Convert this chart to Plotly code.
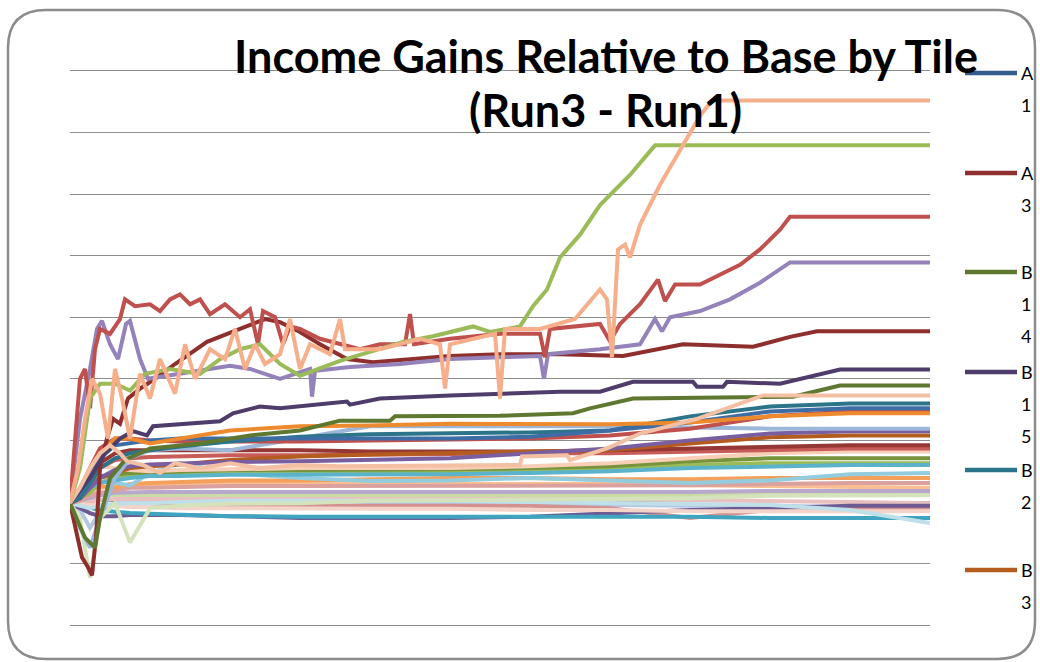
import plotly.graph_objects as go

# ---------------------------------------------------------------------------
# Data (x = simulation step, y = income gain, Run3 - Run1)
# ---------------------------------------------------------------------------

# prominent tiles, each with its own breakpoints
peach_x = [0, 8, 15, 22, 30, 38, 45, 52, 60, 70, 80, 90, 105, 115, 125, 140, 155, 165, 175, 185,
           195, 210, 220, 230, 240, 260, 270, 275, 310, 350, 370, 375, 380, 425, 430, 435, 470, 505, 530, 537,
           542, 548, 555, 560, 570, 590, 610, 630, 642, 860]
peach_y = [-0.02, 0.55, 1.35, 2.00, 1.76, 1.03, 2.16, 1.68, 1.03, 2.08, 1.68, 2.32, 1.76, 2.56, 2.00, 2.48, 2.32, 2.81, 2.16, 2.56,
           2.24, 2.40, 2.97, 2.16, 2.56, 2.40, 2.97, 2.48, 2.48, 2.65, 2.56, 1.84, 2.56, 2.73, 1.68, 2.81, 2.81, 2.97, 3.45, 3.29,
           2.35, 4.10, 4.18, 3.97, 4.50, 5.15, 5.71, 6.27, 6.52, 6.52]

green_x = [0, 10, 20, 30, 45, 60, 75, 100, 130, 150, 170, 190, 210, 230, 270, 333, 363, 403, 420, 450,
           463, 477, 490, 510, 530, 560, 585, 860]
green_y = [-0.02, 0.55, 1.68, 1.92, 1.92, 1.81, 2.08, 2.16, 2.08, 2.32, 2.48, 2.56, 2.24, 2.05, 2.29, 2.60, 2.69, 2.85, 2.76, 2.85,
           3.18, 3.45, 3.97, 4.34, 4.82, 5.31, 5.79, 5.79]

red_x = [0, 5, 10, 15, 20, 25, 30, 40, 50, 55, 65, 80, 90, 100, 110, 120, 130, 140, 155, 170,
         180, 188, 193, 205, 213, 220, 230, 250, 270, 290, 310, 335, 340, 344, 380, 430, 470, 475, 480, 530,
         540, 550, 570, 588, 595, 605, 630, 650, 670, 690, 710, 720, 860]
red_y = [-0.02, 1.03, 2.00, 2.16, 1.52, 2.48, 2.81, 2.73, 2.97, 3.29, 3.18, 3.21, 3.10, 3.29, 3.37, 3.21, 3.29, 3.05, 3.21, 3.00,
         3.13, 2.56, 3.10, 3.00, 2.56, 2.85, 2.81, 2.65, 2.56, 2.48, 2.56, 2.56, 3.05, 2.56, 2.65, 2.73, 2.73, 2.35, 2.81, 2.89,
         2.61, 2.89, 3.21, 3.61, 3.26, 3.53, 3.53, 3.69, 3.85, 4.10, 4.42, 4.63, 4.63]

lavender_x = [0, 10, 20, 27, 32, 40, 48, 56, 60, 70, 78, 90, 110, 130, 160, 180, 210, 240, 242, 245,
              280, 330, 380, 430, 470, 474, 478, 530, 570, 585, 592, 600, 630, 660, 690, 720, 860]
lavender_y = [-0.02, 1.35, 2.16, 2.81, 2.94, 2.56, 2.32, 2.89, 2.94, 2.32, 2.00, 2.03, 2.08, 2.13, 2.21, 2.16, 2.00, 2.16, 1.71, 2.13,
              2.19, 2.24, 2.32, 2.35, 2.37, 2.00, 2.40, 2.48, 2.56, 2.97, 2.77, 3.00, 3.10, 3.29, 3.56, 3.89, 3.89]

a3_x = [0, 5, 12, 18, 22, 26, 30, 37, 43, 50, 58, 70, 85, 105, 137, 170, 195, 210, 230, 250,
        277, 303, 343, 380, 430, 490, 553, 613, 683, 720, 747, 860]
a3_y = [-0.02, -0.42, -0.90, -1.06, -1.19, -0.58, 0.55, 1.03, 1.35, 1.27, 1.68, 1.84, 2.00, 2.24, 2.60, 2.81, 2.97, 2.92, 2.76, 2.56,
        2.32, 2.27, 2.32, 2.37, 2.40, 2.40, 2.37, 2.56, 2.52, 2.68, 2.77, 2.77]

b15_x = [0, 20, 35, 50, 63, 77, 83, 150, 163, 190, 210, 277, 280, 310, 380, 490, 530, 563, 623, 627,
         653, 657, 710, 770, 860]
b15_y = [-0.02, 0.39, 0.79, 1.03, 1.15, 1.08, 1.23, 1.31, 1.44, 1.55, 1.52, 1.63, 1.58, 1.68, 1.73, 1.79, 1.79, 1.95, 1.95, 1.87,
         1.87, 1.95, 1.92, 2.15, 2.15]

b14_x = [0, 15, 25, 30, 40, 55, 80, 130, 180, 230, 270, 320, 325, 430, 503, 520, 563, 630, 723, 770, 860]
b14_y = [-0.02, -0.58, -0.74, -0.26, 0.39, 0.68, 0.87, 0.95, 1.08, 1.16, 1.32, 1.32, 1.39, 1.40, 1.44, 1.52, 1.68, 1.69, 1.71, 1.89, 1.89]

peach2_x = [0, 10, 20, 30, 40, 50, 57, 73, 90, 105, 130, 160, 190, 230, 270, 380, 450, 452, 497, 500,
            537, 570, 627, 693, 860]
peach2_y = [-0.02, 0.23, 0.55, 0.79, 0.92, 0.79, 0.66, 0.60, 0.47, 0.63, 0.55, 0.63, 0.55, 0.60, 0.58, 0.60, 0.60, 0.74, 0.76, 0.68,
            0.87, 1.11, 1.35, 1.73, 1.73]

# the crowded band of smaller tiles, read on a shared step grid
steps = [0, 10, 20, 30, 45, 60, 80, 110, 160, 230, 300, 380, 460, 540, 620, 700, 780, 860]

c_orange = [-0.02, 0.23, 0.55, 0.79, 1.03, 1.03, 0.95, 1.03, 1.16, 1.23, 1.24, 1.27, 1.27, 1.26, 1.29, 1.39, 1.44, 1.44]
a1 = [-0.02, 0.15, 0.39, 0.71, 0.92, 0.95, 1.00, 1.03, 1.03, 1.03, 1.03, 1.03, 1.06, 1.16, 1.29, 1.47, 1.52, 1.52]
b2 = [-0.02, 0.06, 0.31, 0.55, 0.71, 0.79, 0.84, 0.90, 0.98, 1.06, 1.10, 1.11, 1.13, 1.16, 1.39, 1.55, 1.60, 1.60]
c_red = [-0.02, 0.19, 0.55, 0.87, 1.03, 1.03, 1.00, 0.98, 0.98, 0.98, 1.00, 1.02, 1.03, 1.08, 1.19, 1.39, 1.47, 1.47]
c_steel = [-0.02, -0.42, -0.74, -0.26, 0.39, 0.71, 0.84, 0.87, 0.84, 1.03, 1.23, 1.23, 1.23, 1.23, 1.21, 1.19, 1.19, 1.19]
c_purple = [-0.02, 0.06, 0.23, 0.39, 0.52, 0.58, 0.61, 0.63, 0.65, 0.66, 0.68, 0.71, 0.79, 0.87, 1.00, 1.11, 1.15, 1.15]
b3 = [-0.02, 0.06, 0.23, 0.39, 0.47, 0.55, 0.58, 0.61, 0.68, 0.74, 0.77, 0.79, 0.81, 0.84, 0.95, 1.05, 1.08, 1.08]
c_dkred = [-0.02, 0.15, 0.39, 0.63, 0.79, 0.84, 0.84, 0.84, 0.84, 0.84, 0.82, 0.82, 0.82, 0.84, 0.87, 0.90, 0.92, 0.92]
c_red2 = [-0.02, 0.10, 0.31, 0.55, 0.68, 0.71, 0.73, 0.74, 0.76, 0.76, 0.77, 0.79, 0.79, 0.79, 0.82, 0.85, 0.87, 0.87]
c_peach3 = [-0.02, 0.23, 0.47, 0.58, 0.55, 0.52, 0.50, 0.52, 0.53, 0.55, 0.55, 0.55, 0.58, 0.63, 0.71, 0.79, 0.82, 0.82]
c_sage = [-0.02, 0.06, 0.15, 0.31, 0.39, 0.42, 0.44, 0.45, 0.47, 0.47, 0.48, 0.48, 0.50, 0.55, 0.60, 0.63, 0.63, 0.63]
c_cyan = [-0.02, 0.15, 0.31, 0.42, 0.31, 0.27, 0.47, 0.63, 0.47, 0.39, 0.34, 0.35, 0.39, 0.35, 0.31, 0.35, 0.45, 0.47]
c_orange2 = [-0.02, 0.06, 0.23, 0.26, 0.23, 0.29, 0.31, 0.32, 0.35, 0.35, 0.37, 0.39, 0.39, 0.37, 0.37, 0.39, 0.39, 0.39]
c_pink = [-0.02, 0.02, 0.10, 0.15, 0.18, 0.23, 0.23, 0.24, 0.26, 0.26, 0.26, 0.26, 0.26, 0.26, 0.27, 0.29, 0.31, 0.31]
c_lav = [-0.02, 0.02, 0.06, 0.11, 0.15, 0.16, 0.16, 0.16, 0.16, 0.16, 0.16, 0.16, 0.16, 0.16, 0.16, 0.18, 0.18, 0.18]
c_palegreen = [-0.02, -0.26, -1.23, -0.26, -0.02, -0.66, -0.10, -0.06, -0.03, -0.02, 0.02, 0.03, 0.03, 0.05, 0.06, 0.10, 0.11, 0.11]
c_ltcyan = [-0.02, -0.06, -0.10, -0.06, -0.03, -0.02, -0.02, 0.00, 0.02, 0.02, 0.02, 0.02, 0.00, -0.02, -0.03, -0.05, -0.13, -0.34]
c_blush = [-0.02, -0.03, -0.05, -0.05, -0.06, -0.08, -0.08, -0.10, -0.10, -0.11, -0.11, -0.11, -0.13, -0.13, -0.15, -0.15, -0.15, -0.15]
c_aqua = [-0.02, -0.06, -0.10, -0.13, -0.16, -0.18, -0.19, -0.21, -0.23, -0.24, -0.24, -0.24, -0.24, -0.24, -0.24, -0.26, -0.26, -0.26]
c_purple2 = [-0.02, -0.10, -0.18, -0.23, -0.23, -0.21, -0.21, -0.21, -0.23, -0.26, -0.26, -0.26, -0.24, -0.19, -0.13, -0.10, -0.06, -0.06]
c_rose = [-0.02, -0.03, -0.05, -0.06, -0.06, -0.06, -0.06, -0.06, -0.06, -0.06, -0.06, -0.06, -0.06, -0.10, -0.26, -0.13, -0.10, -0.10]
c_ltpink = [-0.02, 0.00, 0.02, 0.03, 0.05, 0.05, 0.05, 0.05, 0.05, 0.05, 0.05, 0.05, 0.05, 0.05, 0.03, 0.02, 0.00, -0.02]
c_ltorange = [-0.02, 0.06, 0.15, 0.23, 0.26, 0.27, 0.27, 0.29, 0.29, 0.29, 0.29, 0.29, 0.29, 0.29, 0.27, 0.26, 0.24, 0.23]
c_ltgreen = [-0.02, 0.06, 0.10, 0.11, 0.11, 0.11, 0.11, 0.11, 0.11, 0.11, 0.11, 0.11, 0.11, 0.11, 0.11, 0.13, 0.13, 0.13]
c_teal2 = [-0.02, 0.10, 0.23, 0.31, 0.35, 0.39, 0.42, 0.42, 0.44, 0.44, 0.44, 0.45, 0.47, 0.50, 0.55, 0.58, 0.60, 0.60]
c_green2 = [-0.02, 0.15, 0.31, 0.42, 0.45, 0.47, 0.48, 0.50, 0.52, 0.52, 0.52, 0.53, 0.55, 0.58, 0.66, 0.71, 0.71, 0.71]
c_bluegray = [-0.02, -0.13, -0.42, -0.16, -0.02, 0.02, 0.03, 0.03, 0.03, 0.02, 0.00, -0.02, -0.03, -0.05, -0.06, -0.06, -0.08, -0.10]

# legend entries visible in the chart
legend_names = ["A1", "A3", "B14", "B15", "B2", "B3"]

# ---------------------------------------------------------------------------
# Styles
# ---------------------------------------------------------------------------

GRID_SERIES = [  # (name, values, colour), drawn first so the big tiles sit on top
    ("C12", c_bluegray, "#B4C7E2"),
    ("C11", c_ltgreen, "#C9DCA6"),
    ("C10", c_ltorange, "#F9BE92"),
    ("C9", c_ltpink, "#E8C0BF"),
    ("C8", c_rose, "#D39290"),
    ("C7", c_purple2, "#6E5A92"),
    ("C6", c_aqua, "#3FA4BF"),
    ("C5", c_blush, "#F4D3C8"),
    ("C4", c_ltcyan, "#BFE0E9"),
    ("C3", c_palegreen, "#D5E3BC"),
    ("C2", c_lav, "#B8A9CC"),
    ("C1", c_pink, "#DBA19F"),
    ("B9", c_orange2, "#F5A05A"),
    ("B8", c_cyan, "#93CDDD"),
    ("B7", c_sage, "#9BBB59"),
    ("B6", c_green2, "#77933C"),
    ("B5", c_teal2, "#5AB3CB"),
    ("B4", c_peach3, "#F8CFB6"),
    ("A9", c_red2, "#C85C59"),
    ("A8", c_dkred, "#953735"),
    ("B3", b3, "#B35C1E"),
    ("A7", c_purple, "#7A5FA0"),
    ("A6", c_steel, "#9DB7DA"),
    ("A5", c_red, "#C0504D"),
    ("B2", b2, "#2B7489"),
    ("A1", a1, "#3E6DA6"),
    ("A4", c_orange, "#EE8A2E"),
]

MAIN_SERIES = [  # (name, x, y, colour)
    ("A3", a3_x, a3_y, "#8E2F2D"),
    ("B14", b14_x, b14_y, "#5E7832"),
    ("B15", b15_x, b15_y, "#4E3C6A"),
    ("D1", peach2_x, peach2_y, "#F4C0A4"),
    ("D2", lavender_x, lavender_y, "#9482BA"),
    ("D3", red_x, red_y, "#C0504D"),
    ("D4", green_x, green_y, "#9BBB59"),
    ("D5", peach_x, peach_y, "#F6AE8B"),
]

LEGEND_COLORS = ["#345C8C", "#8E2F2D", "#5E7832", "#4E3C6A", "#2B7489", "#B35C1E"]

W, H = 1040, 662
PLOT_L, PLOT_R, PLOT_T, PLOT_B = 70, 930, 69, 627
FONT = "Lato"
LINE_W = 4


def px_x(p):
    return (p - PLOT_L) / (PLOT_R - PLOT_L)


def px_y(p):
    return (PLOT_B - p) / (PLOT_B - PLOT_T)


def rounded_box(x0, y0, x1, y1, r):
    """Rounded rectangle path, given in page pixels, returned in paper units."""
    pts = [
        f"M {px_x(x0 + r)},{px_y(y0)}",
        f"L {px_x(x1 - r)},{px_y(y0)}",
        f"Q {px_x(x1)},{px_y(y0)} {px_x(x1)},{px_y(y0 + r)}",
        f"L {px_x(x1)},{px_y(y1 - r)}",
        f"Q {px_x(x1)},{px_y(y1)} {px_x(x1 - r)},{px_y(y1)}",
        f"L {px_x(x0 + r)},{px_y(y1)}",
        f"Q {px_x(x0)},{px_y(y1)} {px_x(x0)},{px_y(y1 - r)}",
        f"L {px_x(x0)},{px_y(y0 + r)}",
        f"Q {px_x(x0)},{px_y(y0)} {px_x(x0 + r)},{px_y(y0)}",
        "Z",
    ]
    return " ".join(pts)


fig = go.Figure()

for name, vals, color in GRID_SERIES:
    fig.add_trace(go.Scatter(
        x=steps, y=vals, mode="lines", name=name,
        line=dict(color=color, width=LINE_W), showlegend=False,
    ))

for name, xs, ys, color in MAIN_SERIES:
    fig.add_trace(go.Scatter(
        x=xs, y=ys, mode="lines", name=name,
        line=dict(color=color, width=LINE_W), showlegend=False,
    ))

annotations = [
    dict(text="Income Gains Relative to Base by Tile", x=px_x(606), y=px_y(56),
         xref="paper", yref="paper", showarrow=False, xanchor="center", yanchor="middle",
         font=dict(family=FONT, size=45, color="#000000", weight=700)),
    dict(text="(Run3 - Run1)", x=px_x(605), y=px_y(110),
         xref="paper", yref="paper", showarrow=False, xanchor="center", yanchor="middle",
         font=dict(family=FONT, size=45, color="#000000", weight=700)),
]

shapes = [
    dict(type="path", path=rounded_box(8, 10, 1035, 659, 38), xref="paper", yref="paper",
         line=dict(color="#8C8C8C", width=2.5), layer="above"),
]

# hand-built legend: Excel wraps the names one character per line
legend_top = [73, 173, 272, 372, 470, 570]
for name, color, y0 in zip(legend_names, LEGEND_COLORS, legend_top):
    shapes.append(dict(type="line", xref="paper", yref="paper",
                       x0=px_x(965), x1=px_x(1017), y0=px_y(y0), y1=px_y(y0),
                       line=dict(color=color, width=4.5)))
    for k, ch in enumerate(name):
        annotations.append(dict(text=ch, x=px_x(1019), y=px_y(y0 + 32 * k),
                                xref="paper", yref="paper", showarrow=False,
                                xanchor="left", yanchor="middle",
                                font=dict(family=FONT, size=18, color="#000000")))

fig.update_layout(
    width=W, height=H,
    margin=dict(l=PLOT_L, r=W - PLOT_R, t=PLOT_T, b=H - PLOT_B),
    paper_bgcolor="white", plot_bgcolor="white",
    showlegend=False,
    annotations=annotations,
    shapes=shapes,
    xaxis=dict(range=[0, 860], showgrid=False, zeroline=False, showticklabels=False,
               showline=False, ticks=""),
    yaxis=dict(range=[-2.03, 7.03], dtick=1, tick0=0, showgrid=True,
               gridcolor="#8C8C8C", gridwidth=1.2, zeroline=False,
               showticklabels=False, showline=False, ticks=""),
)

# the page body has a default 8px margin; drop it so the chart fills the window
fig.write_html("out.html", config={"displayModeBar": False},
               post_script="document.body.style.margin='0';")
